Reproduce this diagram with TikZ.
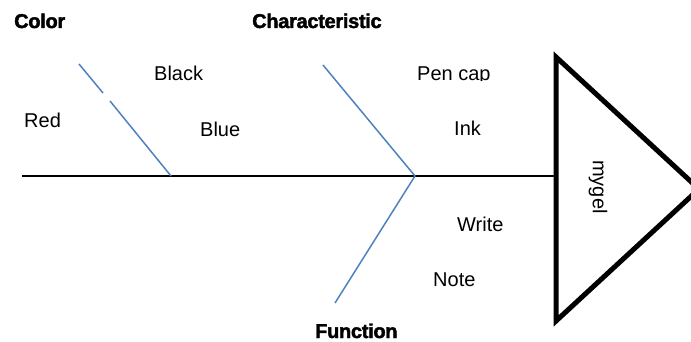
\documentclass[tikz,border=0pt]{standalone}
\usepackage{fontspec}
\setmainfont{Liberation Sans}
\newfontfamily\catfont[FakeBold=2,LetterSpace=-1.5]{Liberation Sans Bold}
\definecolor{bone}{HTML}{4F81BD}
\begin{document}
\begin{tikzpicture}[x=1pt,y=-1pt,
  lbl/.style={inner sep=0pt,anchor=base west,font=\fontsize{20}{22}\selectfont},
  cat/.style={inner sep=0pt,anchor=base west,font=\fontsize{20}{22}\selectfont\catfont},
  boneline/.style={draw=bone,line width=1.5pt},
  spine/.style={draw=black,line width=1.5pt}]
\useasboundingbox (0,0) rectangle (691,342);
% coordinates
\coordinate (tail) at (22,176);
\coordinate (head) at (556,176);
\coordinate (tA) at (556,57);
\coordinate (tB) at (556,321);
\coordinate (tC) at (699,189);
\coordinate (j1) at (171,176);
\coordinate (j2) at (415,176);
\coordinate (c1) at (79,64);
\coordinate (g1) at (103,93);
\coordinate (g2) at (110,101);
\coordinate (c2) at (323,65);
\coordinate (c3) at (335,303);
% spine
\draw[spine] (tail) -- (head);
% triangle head
\draw[line width=5pt,line join=miter] (tA) -- (tC) -- (tB) -- cycle;
\node[rotate=-90,inner sep=0pt,font=\fontsize{20}{22}\selectfont] (mygel) at (598,187) {mygel};
% bones
\draw[boneline] (c1) -- (g1);
\draw[boneline] (g2) -- (j1);
\draw[boneline] (c2) -- (j2);
\draw[boneline] (c3) -- (j2);
% category labels
\node[cat] (color) at (14,28) {Color};
\node[cat] (charac) at (252,28) {Characteristic};
\node[cat] (func) at (315,338) {Function};
% item labels
\node[lbl] (black) at (154,81) {Black};
\node[lbl] (red) at (24,128) {Red};
\node[lbl] (blue) at (200,137) {Blue};
\begin{scope}
\clip (400,55) rectangle (520,81);
\node[lbl] (pencap) at (417,81) {Pen cap};
\end{scope}
\node[lbl] (ink) at (454,136) {Ink};
\begin{scope}
\clip (440,205) rectangle (530,231);
\node[lbl] (write) at (457,231) {Write};
\end{scope}
\node[lbl] (note) at (433,286) {Note};
\end{tikzpicture}
\end{document}
